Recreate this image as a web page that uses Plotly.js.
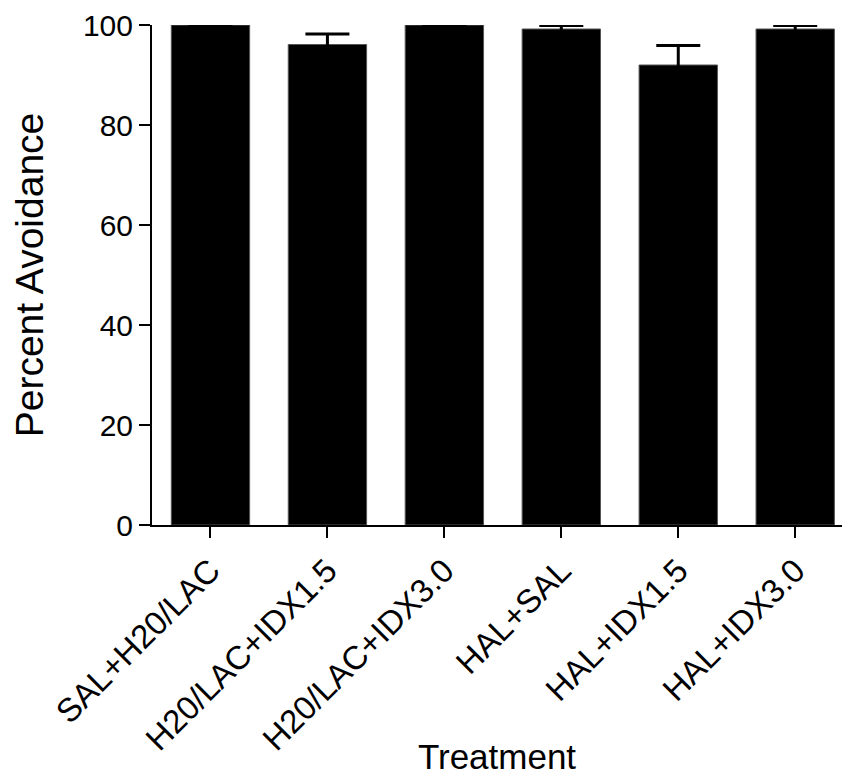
<!DOCTYPE html>
<html>
<head>
<meta charset="utf-8">
<script src="https://cdn.plot.ly/plotly-3.0.1.min.js"></script>
<style>html,body{margin:0;padding:0;background:#fff;}#chart{width:846px;height:776px;}</style>
</head>
<body>
<div id="chart"></div>
<script>
const categories = ["SAL+H20/LAC", "H20/LAC+IDX1.5", "H20/LAC+IDX3.0", "HAL+SAL", "HAL+IDX1.5", "HAL+IDX3.0"];
const meanValues = [100, 96.1, 100, 99.2, 92.0, 99.2];
const semValues = [0, 2.1, 0, 0.7, 3.9, 0.7];
const yTicks = [0, 20, 40, 60, 80, 100];

const FONT = "Liberation Sans, Arial, sans-serif";

const trace = {
  type: "bar",
  x: categories.map((c, i) => i),
  y: meanValues,
  width: 0.67,
  marker: {color: "#000000", line: {color: "#555555", width: 1}},
  error_y: {type: "data", array: semValues, visible: true, color: "#000000", thickness: 3, width: 22},
  hoverinfo: "none"
};

const layout = {
  width: 846, height: 776,
  margin: {l: 152, r: 4, t: 25, b: 251},
  paper_bgcolor: "#ffffff", plot_bgcolor: "#ffffff",
  font: {family: FONT, color: "#000000"},
  showlegend: false,
  bargap: 0,
  xaxis: {
    range: [-0.5, 5.4],
    tickmode: "array",
    tickvals: categories.map((c, i) => i),
    ticktext: categories,
    tickangle: -45,
    ticks: "outside", ticklen: 11, tickwidth: 2, tickcolor: "#000",
    showline: true, linecolor: "#000", linewidth: 2,
    showgrid: false, zeroline: false,
    tickfont: {size: 33, family: FONT},
    title: {text: "Treatment", font: {size: 35, family: FONT}, standoff: 4}
  },
  yaxis: {
    range: [0, 100],
    tickmode: "array",
    tickvals: yTicks,
    ticktext: yTicks.map(String),
    ticks: "outside", ticklen: 11, tickwidth: 2, tickcolor: "#000",
    showline: true, linecolor: "#000", linewidth: 2,
    showgrid: false, zeroline: false,
    tickfont: {size: 30, family: FONT},
    title: {text: "Percent Avoidance", font: {size: 39, family: FONT}, standoff: 27}
  }
};

Plotly.newPlot("chart", [trace], layout, {displayModeBar: false, staticPlot: true});
</script>
</body>
</html>
